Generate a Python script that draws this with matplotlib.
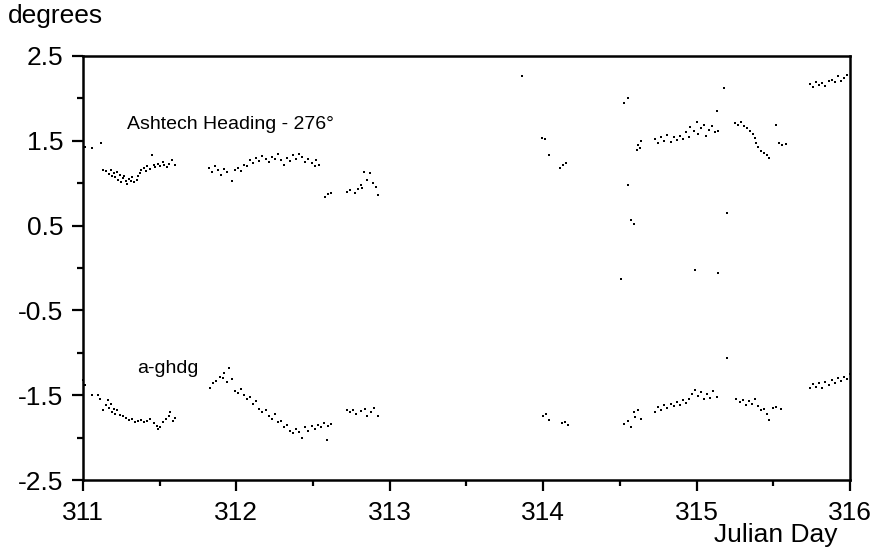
import matplotlib
matplotlib.use("Agg")
import matplotlib.pyplot as plt
from matplotlib.ticker import MultipleLocator, FixedLocator

plt.rcParams['font.family'] = ['Liberation Sans', 'DejaVu Sans']

# Ashtech heading minus 276 degrees (Julian day, degrees)
ash_day = [
    311.01, 311.06, 311.12, 311.13, 311.15, 311.17, 311.18, 311.19, 311.20, 311.21,
    311.22, 311.23, 311.24, 311.25, 311.26, 311.27, 311.28, 311.29, 311.30, 311.31,
    311.32, 311.33, 311.35, 311.36, 311.37, 311.38, 311.40, 311.41, 311.42, 311.44,
    311.45, 311.46, 311.47, 311.49, 311.50, 311.52, 311.53, 311.55, 311.56, 311.58,
    311.60,
    311.82, 311.84, 311.86, 311.88, 311.90, 311.92, 311.94, 311.97, 311.99, 312.01,
    312.03, 312.05, 312.07, 312.09, 312.11, 312.13, 312.15, 312.17, 312.19, 312.21,
    312.23, 312.25, 312.27, 312.29, 312.31, 312.33, 312.35, 312.37, 312.39, 312.41,
    312.43, 312.45, 312.47, 312.49, 312.51, 312.52, 312.54,
    312.58, 312.60, 312.62, 312.72, 312.74, 312.77, 312.79, 312.81, 312.82, 312.83,
    312.85, 312.87, 312.89, 312.91, 312.92,
    313.86, 313.99, 314.01, 314.04, 314.11, 314.13, 314.15,
    314.51, 314.53, 314.55, 314.55, 314.57, 314.59, 314.61, 314.62, 314.63, 314.64,
    314.73, 314.75, 314.77, 314.79, 314.81, 314.83, 314.85, 314.87, 314.89, 314.91,
    314.93, 314.95, 314.96, 314.98, 314.99, 315.00, 315.01, 315.03, 315.05, 315.06,
    315.08, 315.10, 315.12, 315.13, 315.14, 315.14, 315.18, 315.20,
    315.25, 315.27, 315.29, 315.31, 315.33, 315.35, 315.37, 315.38, 315.39, 315.40,
    315.42, 315.44, 315.46, 315.47, 315.52, 315.54, 315.56, 315.58,
    315.74, 315.76, 315.78, 315.80, 315.82, 315.84, 315.86, 315.88, 315.90, 315.92,
    315.94, 315.96, 315.98,
]
ash_val = [
    1.43, 1.42, 1.47, 1.16, 1.14, 1.11, 1.15, 1.09, 1.12, 1.07,
    1.13, 1.04, 1.10, 1.01, 1.06, 1.09, 1.03, 0.99, 1.05, 1.02,
    1.07, 1.01, 1.04, 1.09, 1.12, 1.15, 1.18, 1.14, 1.20, 1.17,
    1.33, 1.22, 1.19, 1.23, 1.20, 1.25, 1.21, 1.19, 1.23, 1.27,
    1.22,
    1.18, 1.13, 1.20, 1.15, 1.10, 1.17, 1.13, 1.02, 1.16, 1.18,
    1.14, 1.22, 1.20, 1.27, 1.24, 1.30, 1.26, 1.32, 1.28, 1.25,
    1.31, 1.29, 1.35, 1.27, 1.22, 1.30, 1.26, 1.33, 1.29, 1.35,
    1.31, 1.25, 1.29, 1.24, 1.20, 1.27, 1.22,
    0.84, 0.87, 0.89, 0.90, 0.92, 0.89, 0.93, 0.98, 0.94, 1.13,
    1.04, 1.12, 1.00, 0.96, 0.86,
    2.26, 1.53, 1.52, 1.33, 1.18, 1.21, 1.24,
    -0.13, 1.94, 2.01, 0.98, 0.57, 0.52, 1.39, 1.45, 1.42, 1.50,
    1.52, 1.47, 1.55, 1.50, 1.57, 1.49, 1.54, 1.51, 1.56, 1.52,
    1.60, 1.55, 1.66, 1.62, -0.02, 1.72, 1.58, 1.65, 1.69, 1.56,
    1.63, 1.67, 1.60, 1.85, 1.62, -0.06, 2.12, 0.65,
    1.71, 1.69, 1.72, 1.67, 1.65, 1.62, 1.58, 1.53, 1.47, 1.43,
    1.38, 1.36, 1.33, 1.30, 1.69, 1.47, 1.45, 1.46,
    2.17, 2.14, 2.19, 2.16, 2.18, 2.15, 2.20, 2.22, 2.19, 2.26,
    2.21, 2.24, 2.28,
]

# a-ghdg series (Julian day, degrees)
gh_day = [
    311.00, 311.01, 311.06, 311.10, 311.11, 311.13, 311.15, 311.16, 311.17, 311.18,
    311.19, 311.20, 311.21, 311.22, 311.24, 311.26, 311.28, 311.30, 311.32, 311.34,
    311.36, 311.38, 311.40, 311.42, 311.44, 311.46, 311.48, 311.49, 311.50, 311.52,
    311.54, 311.56, 311.57, 311.59, 311.60,
    311.83, 311.85, 311.87, 311.89, 311.91, 311.92, 311.94, 311.95, 311.97, 311.99,
    312.01, 312.03, 312.05, 312.07, 312.09, 312.11, 312.13, 312.15, 312.17, 312.19,
    312.21, 312.23, 312.25, 312.27, 312.29, 312.31, 312.33, 312.35, 312.37, 312.39,
    312.41, 312.43, 312.45, 312.47, 312.49, 312.51, 312.53, 312.55, 312.57, 312.59,
    312.60, 312.62,
    312.72, 312.74, 312.76, 312.78, 312.81, 312.84, 312.85, 312.88, 312.90, 312.92,
    314.00, 314.02, 314.04, 314.12, 314.14, 314.16,
    314.53, 314.55, 314.57, 314.59, 314.60, 314.62, 314.64,
    314.73, 314.75, 314.77, 314.79, 314.81, 314.83, 314.85, 314.87, 314.89, 314.91,
    314.93, 314.95, 314.97, 314.99, 315.01, 315.03, 315.05, 315.07, 315.09, 315.11,
    315.13, 315.20,
    315.26, 315.28, 315.30, 315.32, 315.34, 315.36, 315.38, 315.40, 315.42, 315.44,
    315.46, 315.47, 315.50, 315.52, 315.55,
    315.74, 315.76, 315.78, 315.80, 315.82, 315.84, 315.86, 315.88, 315.90, 315.92,
    315.94, 315.96, 315.98, 316.00,
]
gh_val = [
    -1.32, -1.38, -1.50, -1.50, -1.55, -1.67, -1.62, -1.56, -1.65, -1.60,
    -1.70, -1.66, -1.72, -1.68, -1.73, -1.75, -1.77, -1.79, -1.78, -1.81,
    -1.80, -1.79, -1.82, -1.80, -1.78, -1.83, -1.86, -1.90, -1.88, -1.82,
    -1.78, -1.75, -1.70, -1.80, -1.77,
    -1.42, -1.36, -1.33, -1.28, -1.30, -1.24, -1.35, -1.18, -1.31, -1.45,
    -1.47, -1.43, -1.50, -1.55, -1.52, -1.60, -1.57, -1.66, -1.70, -1.68,
    -1.75, -1.78, -1.72, -1.82, -1.80, -1.88, -1.85, -1.92, -1.95, -1.90,
    -1.93, -2.00, -1.88, -1.92, -1.86, -1.90, -1.85, -1.87, -1.83, -2.03,
    -1.86, -1.84,
    -1.68, -1.70, -1.67, -1.72, -1.69, -1.66, -1.75, -1.70, -1.65, -1.74,
    -1.74, -1.72, -1.79, -1.83, -1.82, -1.85,
    -1.84, -1.80, -1.87, -1.70, -1.76, -1.67, -1.78,
    -1.70, -1.64, -1.68, -1.62, -1.65, -1.60, -1.63, -1.58, -1.61, -1.56,
    -1.59, -1.54, -1.48, -1.44, -1.51, -1.46, -1.55, -1.49, -1.53, -1.45,
    -1.52, -1.06,
    -1.54, -1.58, -1.56, -1.61, -1.57, -1.60, -1.55, -1.63, -1.68, -1.66,
    -1.72, -1.79, -1.65, -1.64, -1.66,
    -1.42, -1.37, -1.40, -1.36, -1.41, -1.35, -1.38, -1.32, -1.36, -1.30,
    -1.33, -1.28, -1.31, -1.25,
]

x_ticks = [311, 312, 313, 314, 315, 316]
y_ticks = [-2.5, -1.5, -0.5, 0.5, 1.5, 2.5]
y_tick_labels = ['-2.5', '-1.5', '-0.5', '0.5', '1.5', '2.5']

fig = plt.figure(figsize=(8.79, 5.52), dpi=100)
ax = fig.add_axes([0.0944, 0.1304, 0.8726, 0.7682])

ax.scatter(ash_day, ash_val, s=4.5, marker='s', color='black', linewidths=0, clip_on=False)
ax.scatter(gh_day, gh_val, s=4.5, marker='s', color='black', linewidths=0, clip_on=False)

ax.set_xlim(311, 316)
ax.set_ylim(-2.5, 2.5)
ax.set_xticks(x_ticks)
ax.set_xticklabels([str(t) for t in x_ticks])
ax.set_yticks(y_ticks)
ax.set_yticklabels(y_tick_labels)
ax.xaxis.set_minor_locator(MultipleLocator(0.5))
ax.yaxis.set_minor_locator(FixedLocator([-2, -1, 0, 1, 2]))

for sp in ax.spines.values():
    sp.set_linewidth(1.8)
ax.tick_params(which='major', direction='out', length=8, width=1.6, labelsize=19)
ax.tick_params(axis='y', which='major', pad=6)
ax.tick_params(axis='x', which='major', pad=7)
ax.tick_params(which='minor', direction='out', length=4, width=1.6)

ax.text(311.29, 1.69, 'Ashtech Heading - 276\u00b0', fontsize=14, va='center', ha='left')
ax.text(311.35, -1.19, 'a-ghdg', fontsize=14, va='center', ha='left')

fig.text(8 / 879, 1 - 16 / 552, 'degrees', fontsize=19, va='center', ha='left')
fig.text(838 / 879, 1 - 535 / 552, 'Julian Day', fontsize=19, va='center', ha='right')

fig.savefig('out.png', dpi=100)
